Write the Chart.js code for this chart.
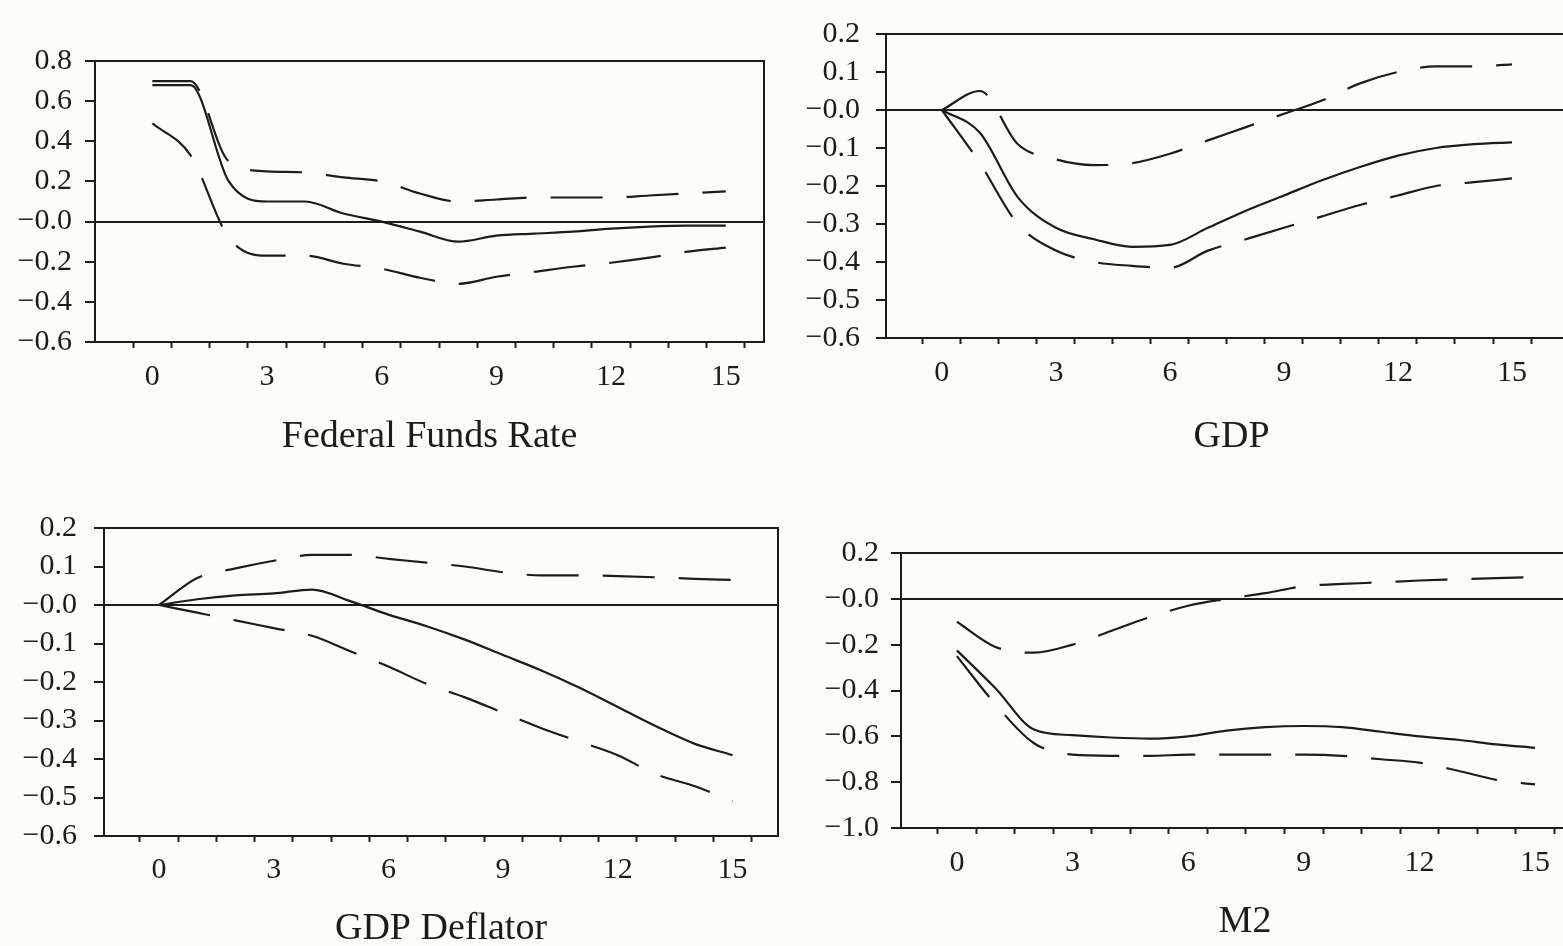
<!DOCTYPE html>
<html>
<head>
<meta charset="utf-8">
<title>Impulse responses</title>
<script src="https://cdn.jsdelivr.net/npm/chart.js@4.4.1/dist/chart.umd.min.js"></script>
<style>
  html, body { margin: 0; padding: 0; width: 1563px; height: 946px; overflow: hidden; background: #fdfdf8; }
  canvas { position: absolute; }
</style>
</head>
<body>
<canvas id="ffr" width="775" height="470" style="left:0;top:0"></canvas>
<canvas id="gdp" width="800" height="470" style="left:790px;top:0"></canvas>
<canvas id="defl" width="790" height="480" style="left:0;top:480px"></canvas>
<canvas id="m2" width="810" height="480" style="left:790px;top:480px"></canvas>
<script>
// quarters after the shock
const horizons = [0, 1, 2, 3, 4, 5, 6, 7, 8, 9, 10, 11, 12, 13, 14, 15];

// Federal Funds Rate
const ffrMid = [0.68, 0.68, 0.20, 0.10, 0.10, 0.04, 0.00, -0.05, -0.10, -0.07, -0.06, -0.05, -0.035, -0.025, -0.02, -0.02];
const ffrUp  = [0.70, 0.70, 0.30, 0.25, 0.245, 0.22, 0.20, 0.14, 0.10, 0.11, 0.12, 0.12, 0.12, 0.13, 0.14, 0.15];
const ffrLow = [0.49, 0.33, -0.08, -0.17, -0.17, -0.21, -0.235, -0.28, -0.31, -0.275, -0.25, -0.225, -0.205, -0.18, -0.15, -0.13];

// GDP
const gdpMid = [0, -0.06, -0.23, -0.31, -0.34, -0.36, -0.355, -0.31, -0.265, -0.225, -0.185, -0.15, -0.12, -0.10, -0.09, -0.085];
const gdpUp  = [0, 0.05, -0.09, -0.13, -0.145, -0.14, -0.115, -0.08, -0.045, -0.01, 0.025, 0.07, 0.10, 0.115, 0.115, 0.12];
const gdpLow = [0, -0.14, -0.30, -0.37, -0.40, -0.41, -0.415, -0.37, -0.34, -0.31, -0.28, -0.25, -0.225, -0.20, -0.19, -0.18];

// GDP Deflator
const defMid = [0, 0.015, 0.025, 0.03, 0.04, 0.01, -0.025, -0.055, -0.09, -0.13, -0.17, -0.215, -0.265, -0.315, -0.36, -0.39];
const defUp  = [0, 0.07, 0.095, 0.115, 0.13, 0.13, 0.12, 0.11, 0.10, 0.085, 0.077, 0.077, 0.075, 0.072, 0.068, 0.065];
const defLow = [0, -0.02, -0.04, -0.06, -0.08, -0.12, -0.16, -0.205, -0.24, -0.28, -0.32, -0.355, -0.39, -0.44, -0.47, -0.51];

// M2
const m2Mid = [-0.225, -0.39, -0.57, -0.595, -0.605, -0.61, -0.60, -0.575, -0.56, -0.555, -0.56, -0.58, -0.60, -0.615, -0.635, -0.65];
const m2Up  = [-0.10, -0.21, -0.235, -0.20, -0.14, -0.08, -0.03, 0.00, 0.025, 0.055, 0.065, 0.072, 0.08, 0.085, 0.09, 0.095];
const m2Low = [-0.25, -0.46, -0.63, -0.68, -0.685, -0.685, -0.68, -0.68, -0.68, -0.68, -0.685, -0.70, -0.715, -0.75, -0.79, -0.81];

Chart.defaults.font.family = "'Liberation Serif', 'DejaVu Serif', serif";
Chart.defaults.color = '#1c1c1c';
const ink = '#1c1c1c';

// top and right edges of the box
const frame = {
  id: 'frame',
  afterDraw(chart) {
    const { ctx, chartArea: a } = chart;
    ctx.save();
    ctx.strokeStyle = ink;
    ctx.lineWidth = 2;
    ctx.beginPath();
    ctx.moveTo(a.left, a.top);
    ctx.lineTo(a.right, a.top);
    ctx.lineTo(a.right, a.bottom);
    ctx.stroke();
    ctx.restore();
  }
};

function yLabel(v) {
  if (v > 1e-9) return v.toFixed(1);
  return '\u2212' + Math.abs(v).toFixed(1);
}

function xLabel(v) {
  return (v >= 0 && v % 3 === 0) ? String(v) : '';
}

function panel(id, title, mid, up, low, opt) {
  const pts = arr => horizons.map((h, i) => ({ x: h, y: arr[i] }));
  const line = (arr, dashed) => ({
    data: pts(arr),
    borderColor: ink,
    borderWidth: 2.2,
    pointRadius: 0,
    borderDash: dashed ? [52, 24] : [],
    cubicInterpolationMode: 'monotone',
    fill: false
  });

  new Chart(document.getElementById(id), {
    type: 'line',
    data: { datasets: [line(low, true), line(mid, false), line(up, true)] },
    options: {
      responsive: false,
      animation: false,
      layout: { autoPadding: false, padding: opt.pad },
      plugins: { legend: { display: false }, tooltip: { enabled: false } },
      scales: {
        x: {
          type: 'linear',
          min: opt.xMin,
          max: opt.xMax,
          afterFit: s => { s.height = opt.xH; },
          border: { color: ink, width: 2 },
          grid: {
            drawOnChartArea: false,
            tickLength: 6,
            tickWidth: 2,
            tickColor: c => (c.tick && c.tick.value % 1 !== 0 && c.tick.value > -1) ? ink : 'rgba(0,0,0,0)'
          },
          ticks: {
            stepSize: 0.5,
            autoSkip: false,
            maxRotation: 0,
            includeBounds: false,
            padding: opt.xPad,
            font: { size: 30 },
            callback: xLabel
          },
          title: { display: true, text: title, font: { size: 38 }, padding: 0, color: ink }
        },
        y: {
          min: opt.yMin,
          max: opt.yMax,
          afterFit: s => { s.width = opt.yW; },
          border: { color: ink, width: 2 },
          grid: {
            tickLength: 10,
            tickWidth: 2,
            tickColor: ink,
            lineWidth: 2,
            color: c => (c.tick && Math.abs(c.tick.value) < 1e-9) ? ink : 'rgba(0,0,0,0)'
          },
          ticks: {
            stepSize: opt.yStep,
            autoSkip: false,
            padding: opt.yPad,
            font: { size: 30 },
            callback: yLabel
          }
        }
      }
    },
    plugins: [frame]
  });
}

panel('ffr', 'Federal Funds Rate', ffrMid, ffrUp, ffrLow, {
  pad: { left: 0, top: 61, right: 10, bottom: 10 }, yW: 95, xH: 118, xPad: 11,
  xMin: -1.5, xMax: 16, yMin: -0.6, yMax: 0.8, yStep: 0.2, yPad: 13
});
panel('gdp', 'GDP', gdpMid, gdpUp, gdpLow, {
  pad: { left: 0, top: 24, right: 13, bottom: 10 }, yW: 96, xH: 122, xPad: 11,
  xMin: -1.47, xMax: 16.71, yMin: -0.6, yMax: 0.2, yStep: 0.1, yPad: 16
});
panel('defl', 'GDP Deflator', defMid, defUp, defLow, {
  pad: { left: 0, top: 48, right: 12, bottom: 8 }, yW: 104, xH: 116, xPad: 10,
  xMin: -1.44, xMax: 16.19, yMin: -0.6, yMax: 0.2, yStep: 0.1, yPad: 17
});
panel('m2', 'M2', m2Mid, m2Up, m2Low, {
  pad: { left: 0, top: 73, right: 11, bottom: 15 }, yW: 111, xH: 117, xPad: 11,
  xMin: -1.45, xMax: 16.4, yMin: -1.0, yMax: 0.2, yStep: 0.2, yPad: 12
});
</script>
</body>
</html>
